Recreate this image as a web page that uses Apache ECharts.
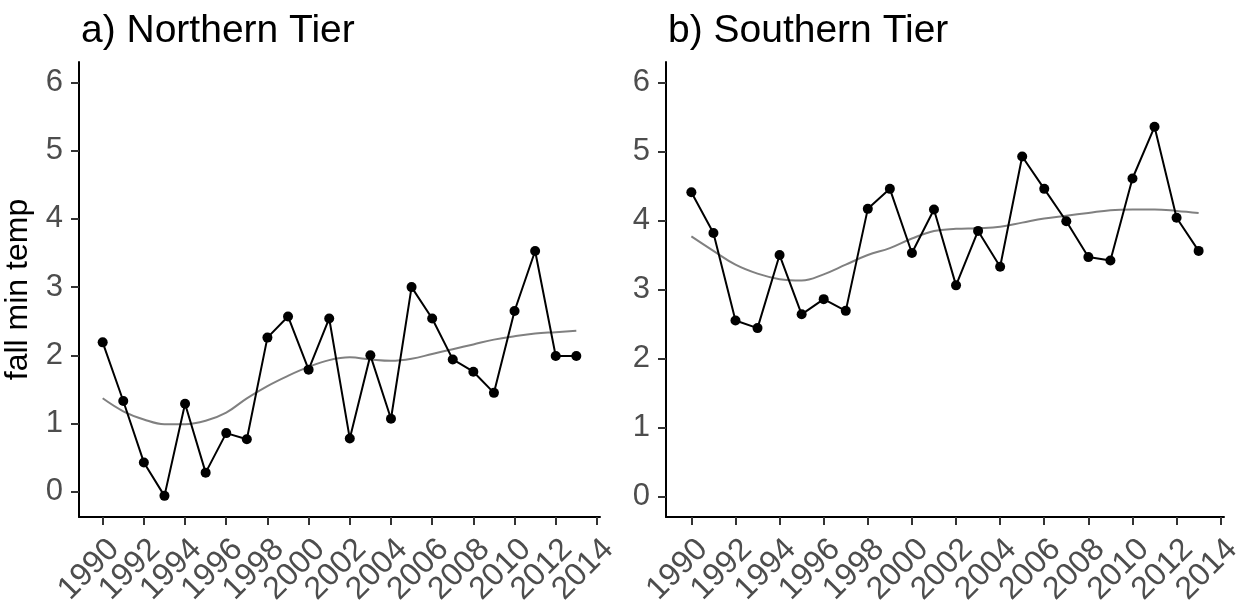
<!DOCTYPE html>
<html>
<head>
<meta charset="utf-8">
<title>Fall minimum temperature</title>
<script src="https://cdn.jsdelivr.net/npm/echarts@6/dist/echarts.min.js"></script>
<style>
  html, body { margin: 0; padding: 0; background: #ffffff; }
  #chart { width: 1246px; height: 601px; }
</style>
</head>
<body>
<div id="chart"></div>
<script>
// Years of record
const years = [1990, 1991, 1992, 1993, 1994, 1995, 1996, 1997, 1998, 1999, 2000, 2001,
               2002, 2003, 2004, 2005, 2006, 2007, 2008, 2009, 2010, 2011, 2012, 2013];

// Northern tier: yearly fall minimum temperature and its smoothed trend
const northTemp  = [2.19, 1.33, 0.43, -0.06, 1.29, 0.28, 0.86, 0.77, 2.26, 2.57, 1.79, 2.54,
                    0.78, 2.00, 1.07, 3.00, 2.54, 1.94, 1.76, 1.45, 2.65, 3.53, 1.99, 1.99];
const northTrend = [1.37, 1.18, 1.06, 0.99, 0.99, 1.04, 1.16, 1.37, 1.55, 1.70, 1.83, 1.93,
                    1.97, 1.94, 1.92, 1.95, 2.02, 2.09, 2.16, 2.23, 2.28, 2.32, 2.34, 2.36];

// Southern tier: yearly fall minimum temperature and its smoothed trend
const southTemp  = [4.41, 3.82, 2.55, 2.44, 3.50, 2.64, 2.86, 2.69, 4.17, 4.46, 3.53, 4.16,
                    3.06, 3.85, 3.33, 4.93, 4.46, 3.99, 3.47, 3.42, 4.61, 5.36, 4.04, 3.56];
const southTrend = [3.77, 3.56, 3.36, 3.23, 3.15, 3.13, 3.22, 3.36, 3.50, 3.60, 3.74, 3.85,
                    3.88, 3.89, 3.91, 3.97, 4.03, 4.07, 4.11, 4.15, 4.16, 4.16, 4.14, 4.11];

// Tick labels
const xTickYears = [1990, 1992, 1994, 1996, 1998, 2000, 2002, 2004, 2006, 2008, 2010, 2012, 2014];
const yTicks = [0, 1, 2, 3, 4, 5, 6];

const panelTitles = ['a) Northern Tier', 'b) Southern Tier'];
const yTitle = 'fall min temp';

const FONT = '"Liberation Sans", Arial, Helvetica, sans-serif';
const pairs = (vals) => years.map((y, i) => [y, vals[i]]);

// The year labels are split over two stacked bottom axes (alternate labels each),
// so that every rotated label is kept even where the panel is narrow.
const yearLabelsA = xTickYears.filter((_, i) => i % 2 === 0);
const yearLabelsB = xTickYears.filter((_, i) => i % 2 === 1);

function yearLabelStyle(values) {
  return {
    show: true, customValues: values, rotate: 45, margin: 16,
    align: 'right', verticalAlign: 'top',
    hideOverlap: false, showMinLabel: true, showMaxLabel: true,
    formatter: (v) => String(v),
    color: '#4d4d4d', fontSize: 32, fontFamily: FONT
  };
}

function xAxesFor(gridIndex) {
  return [
    {
      type: 'value', gridIndex, position: 'bottom',
      min: 1988.85, max: 2014.15,
      splitLine: { show: false },
      axisLine: { show: true, onZero: false, lineStyle: { color: '#000000', width: 2 } },
      axisTick: { show: true, length: 8, customValues: xTickYears,
                  lineStyle: { color: '#333333', width: 2 } },
      axisLabel: yearLabelStyle(yearLabelsA)
    },
    {
      type: 'value', gridIndex, position: 'bottom', offset: 0,
      min: 1988.85, max: 2014.15,
      splitLine: { show: false },
      axisLine: { show: false, onZero: false },
      axisTick: { show: false },
      axisLabel: yearLabelStyle(yearLabelsB)
    }
  ];
}

function yAxisFor(gridIndex, min, withName) {
  const ax = {
    type: 'value', gridIndex,
    min, max: 6.3,
    splitLine: { show: false },
    axisLine: { show: true, onZero: false, lineStyle: { color: '#000000', width: 2 } },
    axisTick: { show: true, length: 8, customValues: yTicks,
                lineStyle: { color: '#333333', width: 2 } },
    axisLabel: { show: true, customValues: yTicks, margin: 16,
                 color: '#4d4d4d', fontSize: 31, fontFamily: FONT }
  };
  if (withName) {
    ax.name = yTitle;
    ax.nameLocation = 'middle';
    ax.nameGap = 45;
    ax.nameRotate = 90;
    ax.nameTextStyle = { color: '#000000', fontSize: 32, fontFamily: FONT };
  }
  return ax;
}

function obsSeries(xIdx, yIdx, vals) {
  return {
    type: 'line', xAxisIndex: xIdx, yAxisIndex: yIdx,
    data: pairs(vals),
    symbol: 'circle', symbolSize: 10, showAllSymbol: true,
    lineStyle: { color: '#000000', width: 2 },
    itemStyle: { color: '#000000' },
    z: 3
  };
}

function trendSeries(xIdx, yIdx, vals) {
  return {
    type: 'line', xAxisIndex: xIdx, yAxisIndex: yIdx,
    data: pairs(vals),
    smooth: 0.4, symbol: 'none',
    lineStyle: { color: '#808080', width: 2 },
    z: 2
  };
}

const chart = echarts.init(document.getElementById('chart'), null, { renderer: 'canvas' });
chart.setOption({
  animation: false,
  backgroundColor: '#ffffff',
  title: [
    { text: panelTitles[0], left: 76, top: 7,
      textStyle: { color: '#000000', fontSize: 39, fontWeight: 'normal', fontFamily: FONT } },
    { text: panelTitles[1], left: 663, top: 7,
      textStyle: { color: '#000000', fontSize: 39, fontWeight: 'normal', fontFamily: FONT } }
  ],
  grid: [
    { left: 79, top: 62, width: 521, height: 455, containLabel: false, outerBoundsMode: 'none' },
    { left: 666, top: 62, width: 558, height: 455, containLabel: false, outerBoundsMode: 'none' }
  ],
  // x axes 0,1 belong to the left panel, 2,3 to the right panel
  xAxis: [...xAxesFor(0), ...xAxesFor(1)],
  yAxis: [yAxisFor(0, -0.37, true), yAxisFor(1, -0.3, false)],
  series: [
    trendSeries(0, 0, northTrend), obsSeries(0, 0, northTemp),
    trendSeries(2, 1, southTrend), obsSeries(2, 1, southTemp)
  ]
});
</script>
</body>
</html>
